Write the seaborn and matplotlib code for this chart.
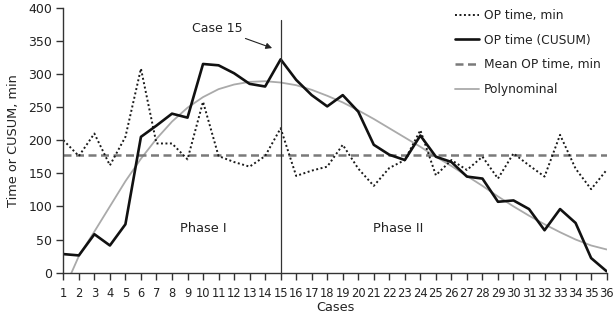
import matplotlib

matplotlib.use("Agg")

import matplotlib.pyplot as plt
import pandas as pd
import seaborn as sns
from matplotlib.lines import Line2D

cases = list(range(1, 37))
op_time = [200, 176, 210, 162, 205, 308, 195, 195, 171, 258, 176, 167, 160, 176, 218, 146, 154, 160,
           193, 157, 131, 158, 170, 215, 147, 170, 155, 175, 142, 180, 162, 145, 208, 157, 126, 155]
op_cusum = [28, 26, 58, 41, 73, 205, 222, 240, 234, 315, 313, 301, 285, 281, 322, 291, 268, 251,
            268, 243, 193, 178, 170, 207, 175, 167, 145, 142, 107, 109, 96, 64, 96, 75, 22, 2]
mean_op = 177
polynominal = [-28, 25, 62, 100, 138, 172, 202, 228, 249, 265, 277, 284, 288, 289, 287, 283, 276, 267,
               257, 245, 232, 218, 204, 190, 175, 161, 146, 131, 115, 100, 86, 73, 61, 50, 41, 35]
legend_labels = ["OP time, min", "OP time (CUSUM)", "Mean OP time, min", "Polynominal"]

df = pd.DataFrame({
    "case": cases,
    "op_time": op_time,
    "op_cusum": op_cusum,
    "mean_op": [mean_op] * len(cases),
    "poly": polynominal,
})

sns.set_style("ticks")
plt.rcParams["font.family"] = ["DejaVu Sans"]

fig = plt.figure(figsize=(6.16, 3.2), dpi=100)
ax = fig.add_axes([0.1028, 0.148, 0.882, 0.828])

dark = "#1a1a1a"
text_color = "#222222"
sns.lineplot(data=df, x="case", y="poly", ax=ax, color="#aaaaaa", linewidth=1.3)
sns.lineplot(data=df, x="case", y="mean_op", ax=ax, color="#7a7a7a", linewidth=1.8, linestyle=(0, (3.2, 1.8)))
sns.lineplot(data=df, x="case", y="op_time", ax=ax, color=dark, linewidth=1.4, linestyle=(0, (1, 1.3)))
sns.lineplot(data=df, x="case", y="op_cusum", ax=ax, color="#111111", linewidth=1.9)

ax.plot([15, 15], [0, 381], color="#333333", linewidth=0.9, clip_on=False)

ax.set_xlim(1, 36)
ax.set_ylim(0, 400)
ax.set_xticks(cases)
ax.set_yticks(range(0, 401, 50))
ax.tick_params(axis="both", length=5, width=1, color="#333333", labelcolor=text_color)
ax.tick_params(axis="x", labelsize=8.3, pad=5)
ax.tick_params(axis="y", labelsize=9, pad=3)
for side in ["top", "right"]:
    ax.spines[side].set_visible(False)
for side in ["left", "bottom"]:
    ax.spines[side].set_color("#333333")
    ax.spines[side].set_linewidth(1)

ax.set_xlabel("Cases", fontsize=9.3, color=text_color, labelpad=1)
ax.set_ylabel("Time or CUSUM, min", fontsize=9.3, color=text_color, labelpad=6)

ax.text(10.0, 67, "Phase I", fontsize=9.3, ha="center", va="center", color=text_color)
ax.text(22.6, 67, "Phase II", fontsize=9.3, ha="center", va="center", color=text_color)
ax.annotate("Case 15", xy=(14.45, 339), xytext=(10.9, 369), fontsize=9, ha="center", va="center",
            color=text_color,
            arrowprops=dict(arrowstyle="-|>", color=text_color, linewidth=0.8, mutation_scale=9,
                            shrinkA=1, shrinkB=0))

handles = [
    Line2D([], [], color=dark, linewidth=1.4, linestyle=(0, (1, 1.3))),
    Line2D([], [], color="#111111", linewidth=1.9),
    Line2D([], [], color="#7a7a7a", linewidth=1.8, linestyle=(0, (3.2, 1.8))),
    Line2D([], [], color="#aaaaaa", linewidth=1.3),
]
fig.legend(handles, legend_labels, loc="upper left", bbox_to_anchor=(455 / 616, 1 - 9 / 320),
           frameon=False, fontsize=8.8, handlelength=2.0, handletextpad=0.35, labelspacing=0.95,
           borderpad=0, borderaxespad=0, labelcolor=text_color)

fig.savefig("out.png", dpi=100)
